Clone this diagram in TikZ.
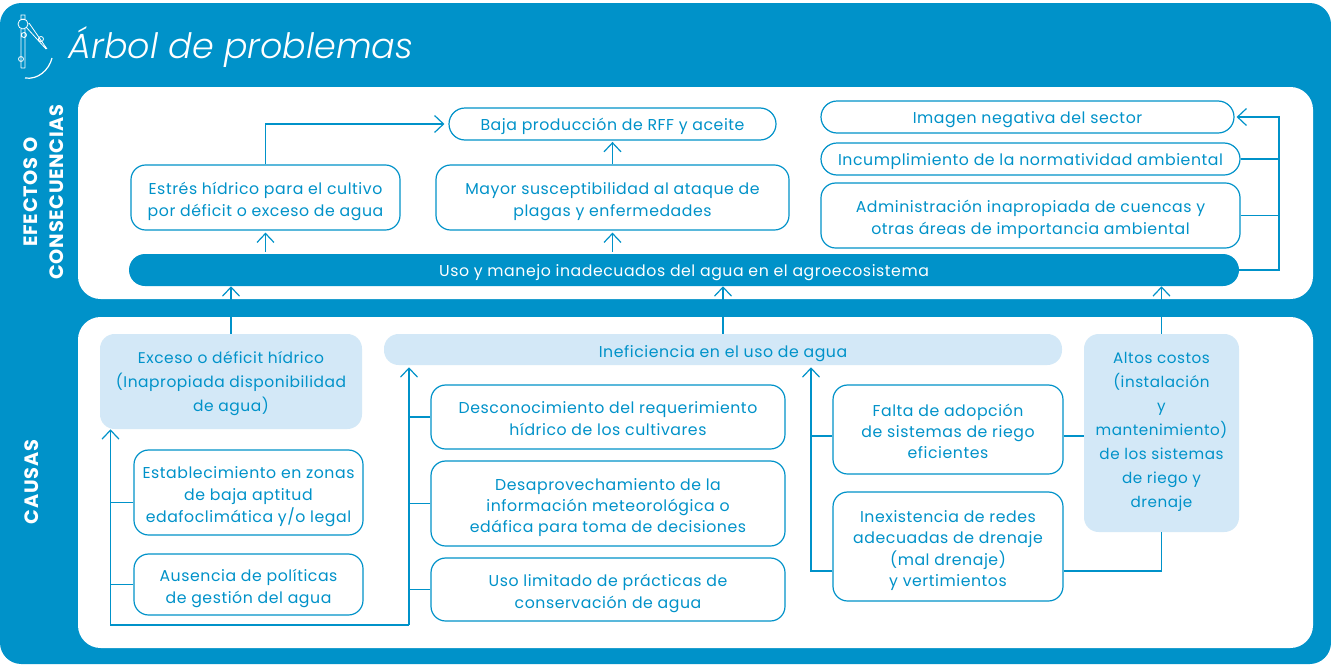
\documentclass[tikz,border=0pt]{standalone}
\usepackage{fontspec}
\setmainfont{Poppins}[LetterSpace=3.5]
\newfontfamily\titlefont{Poppins Light}
\usetikzlibrary{arrows.meta}
\definecolor{treeblue}{HTML}{0092C9}
\definecolor{treesoft}{HTML}{D3E8F7}
\newcommand{\pxlen}{0.75pt}
\newcommand{\boxfont}{\fontsize{11.8}{16.4}\selectfont}
\tikzset{
    boxtext/.style={align=center, inner sep=0pt, font=\boxfont,
        execute at begin node={\rule{0pt}{14.5pt}}, execute at end node={\rule[-5pt]{0pt}{0pt}}},
    probbox/.style={boxtext, draw=treeblue, line width=0.9pt, fill=white, text=treeblue, rounded corners=11pt},
    tallbox/.style={probbox, execute at begin node={\rule{0pt}{#1}}},
    softbox/.style={boxtext, fill=treesoft, text=treeblue, rounded corners=11pt},
    softtall/.style={softbox, font=\fontsize{11.6}{18}\selectfont, execute at begin node={\rule{0pt}{#1}}},
    sidelabel/.style={text=white, rotate=90, align=center, inner sep=0pt, font=\fontsize{14.5}{19.5}\selectfont\bfseries},
    linkline/.style={draw=treeblue, line width=0.9pt},
    arrowline/.style={linkline, -{Straight Barb[length=6.75pt,width=12.75pt]}},
}
\begin{document}
\begin{tikzpicture}[x=0.75pt, y=-0.75pt]
    \useasboundingbox (0,0) rectangle (1331,664);
    \fill[treeblue, rounded corners=16pt] (0,3) rectangle (1331,664);
    \fill[white, rounded corners=17pt] (78,87) rectangle (1313,299);
    \fill[white, rounded corners=17pt] (78,317) rectangle (1313,648);

    % title and compass
    \node[text=white, inner sep=0pt, font=\fontsize{26.2}{30}\selectfont\titlefont\itshape] (title) at (241,47) {Árbol de problemas};
    \draw[white, line width=0.6pt] (23,24) circle (5) (21,15) rectangle (25,19.5)
        (21,29) -- (21,68) (25,29) -- (25,68) (21,68) -- (25,68)
        (26,27) -- (46,49) (29,23) -- (47,49)
        (21,59) circle (2.5) (24,35) circle (2.5) (41,39) circle (2.5);
    \draw[white, line width=0.9pt] (52,58) .. controls (49,70) and (38,80) .. (25,78);

    % side labels
    \node[sidelabel] (efectos) at (44,192) {EFECTOS O\\CONSECUENCIAS};
    \node[sidelabel] (causas) at (32,482) {CAUSAS};

    % efectos
    \node[probbox, rounded corners=12pt, minimum width=327*\pxlen, minimum height=32*\pxlen] (baja) at (612.5,124) {Baja producción de RFF y aceite};
    \node[tallbox=33pt, minimum width=269*\pxlen, minimum height=65*\pxlen] (estres) at (265.5,197.5) {Estrés hídrico para el cultivo\\por déficit o exceso de agua};
    \node[tallbox=33pt, minimum width=353*\pxlen, minimum height=65*\pxlen] (mayor) at (612.5,197.5) {Mayor susceptibilidad al ataque de\\plagas y enfermedades};
    \node[probbox, rounded corners=12pt, minimum width=413*\pxlen, minimum height=32*\pxlen] (imagen) at (1027.5,117) {Imagen negativa del sector};
    \node[probbox, rounded corners=12pt, minimum width=419*\pxlen, minimum height=32*\pxlen] (incumpl) at (1030.5,159) {Incumplimiento de la normatividad ambiental};
    \node[tallbox=33pt, minimum width=419*\pxlen, minimum height=65*\pxlen] (admin) at (1030.5,215.5) {Administración inapropiada de cuencas y\\otras áreas de importancia ambiental};
    \node[boxtext, fill=treeblue, text=white, rounded corners=12pt, minimum width=1110*\pxlen, minimum height=32*\pxlen] (uso) at (684,270) {Uso y manejo inadecuados del agua en el agroecosistema};

    % causas
    \node[softtall=49.7pt, minimum width=262*\pxlen, minimum height=95*\pxlen] (exceso) at (231,381.5) {Exceso o déficit hídrico\\(Inapropiada disponibilidad\\de agua)};
    \node[softbox, execute at begin node={\rule{0pt}{16.5pt}}, minimum width=678*\pxlen, minimum height=31*\pxlen] (inefic) at (723,349.5) {Ineficiencia en el uso de agua};
    \node[softtall=113.3pt, font=\fontsize{11.4}{18}\selectfont, minimum width=155*\pxlen, minimum height=198*\pxlen] (altos) at (1161.5,433) {Altos costos\\(instalación\\y\\mantenimiento)\\de los sistemas\\de riego y\\drenaje};
    \node[tallbox=49.5pt, minimum width=229*\pxlen, minimum height=85*\pxlen] (establec) at (248.5,492.5) {Establecimiento en zonas\\de baja aptitud\\edafoclimática y/o legal};
    \node[tallbox=33pt, minimum width=229*\pxlen, minimum height=61*\pxlen] (ausencia) at (248.5,584.5) {Ausencia de políticas\\de gestión del agua};
    \node[tallbox=33pt, minimum width=354*\pxlen, minimum height=64*\pxlen] (descon) at (608,417) {Desconocimiento del requerimiento\\hídrico de los cultivares};
    \node[tallbox=49pt, font=\fontsize{11.8}{16}\selectfont, minimum width=354*\pxlen, minimum height=85*\pxlen] (desapr) at (608,503.5) {Desaprovechamiento de la\\información meteorológica o\\edáfica para toma de decisiones};
    \node[tallbox=33pt, minimum width=354*\pxlen, minimum height=63*\pxlen] (limitado) at (608,589.5) {Uso limitado de prácticas de\\conservación de agua};
    \node[tallbox=49pt, font=\fontsize{11.8}{16}\selectfont, minimum width=230*\pxlen, minimum height=89*\pxlen] (falta) at (948,429.5) {Falta de adopción\\de sistemas de riego\\eficientes};
    \node[tallbox=65pt, font=\fontsize{11.8}{16}\selectfont, minimum width=230*\pxlen, minimum height=109*\pxlen] (inexist) at (948,546.5) {Inexistencia de redes\\adecuadas de drenaje\\(mal drenaje)\\y vertimientos};

    \coordinate (railleft) at (110.5,625);
    \coordinate (railmid) at (409,625);
    \coordinate (railright) at (811,571);
    \coordinate (railtop) at (1279,117);

    % conectores de efectos
    \draw[arrowline, shorten >=3pt] (estres.north) |- (baja.west);
    \draw[arrowline, shorten >=1.5pt, shorten <=1.5pt] (uso.north -| estres) -- (estres.south);
    \draw[arrowline, shorten >=1.5pt, shorten <=1.5pt] (uso.north -| mayor) -- (mayor.south);
    \draw[arrowline, shorten >=1pt] (mayor.north) -- (baja.south);
    \draw[arrowline, shorten >=1.5pt] (uso.east) -| (railtop) -- (imagen.east);
    \foreach \src in {incumpl,admin} {
        \draw[linkline] (\src.east) -- (\src.east -| railtop);
    }

    % conectores de causas
    \draw[arrowline] (exceso.north) -- (exceso.north |- uso.south);
    \draw[arrowline] (inefic.north) -- (inefic.north |- uso.south);
    \draw[arrowline] (altos.north) -- (altos.north |- uso.south);
    \draw[arrowline] (railmid) -- (railleft) -- (railleft |- exceso.south);
    \draw[arrowline, shorten >=1.5pt] (railmid) -- (railmid |- inefic.south);
    \draw[arrowline, shorten >=1.5pt] (inexist.west |- railright) -- (railright) -- (railright |- inefic.south);
    \draw[linkline] ([yshift=-7.5pt]establec.west) -- ([yshift=-7.5pt]establec.west -| railleft);
    \draw[linkline] (ausencia.west) -- (ausencia.west -| railleft);
    \foreach \src in {descon,desapr,limitado} {
        \draw[linkline] (\src.west) -- (\src.west -| railmid);
    }
    \draw[linkline] ([yshift=-4.9pt]falta.west) -- ([yshift=-4.9pt]falta.west -| railright);
    \draw[linkline] ([yshift=-4.9pt]falta.east) -- ([yshift=-4.9pt]falta.east -| altos.west);
    \draw[linkline] (inexist.east |- railright) -| (altos.south);
\end{tikzpicture}
\end{document}
